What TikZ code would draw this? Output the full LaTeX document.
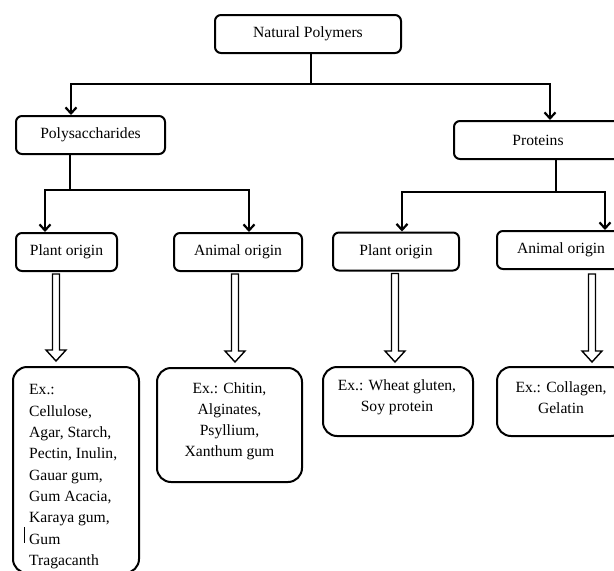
\documentclass[tikz,border=0pt]{standalone}
\usepackage{fontspec}
\setmainfont{Liberation Serif}
\usetikzlibrary{arrows.meta,calc}
\newcommand{\hollowarr}[2]{%
  \draw[hollow] ($(#1)+(-3.5,0)$) -- ($(#2)+(-3.5,-11)$) -- ($(#2)+(-10,-11)$) -- (#2)
    -- ($(#2)+(10,-11)$) -- ($(#2)+(3.5,-11)$) -- ($(#1)+(3.5,0)$) -- cycle;}
\begin{document}
\begin{tikzpicture}[x=1pt,y=-1pt,
  box/.style={draw, line width=2pt, rounded corners=6pt, inner sep=0pt, minimum height=38pt,
    font=\fontsize{15.6}{21}\selectfont},
  exbox/.style={draw, line width=2pt, rounded corners=14pt, inner sep=0pt},
  conn/.style={line width=2.2pt},
  arr/.style={conn, -{Straight Barb[length=6pt,width=11pt]}},
  hollow/.style={line width=1.4pt, line join=miter},
  txt/.style={font=\fontsize{15.6}{21}\selectfont, inner sep=0pt, align=center}]
\useasboundingbox (0,0) rectangle (614,571);
\clip (0,0) rectangle (614,571);

% level 0 and 1
\node[box, minimum width=186pt] (np) at (308,34) {Natural Polymers};
\node[box, minimum width=149pt] (poly) at (90.5,135) {Polysaccharides};
\node[box, minimum width=168pt] (prot) at (538,140) {Proteins};

% level 2
\node[box, minimum width=101pt] (plL) at (66.5,252) {Plant origin};
\node[box, minimum width=128pt] (anL) at (238,252) {Animal origin};
\node[box, minimum width=126pt] (plR) at (396,251.5) {Plant origin};
\node[box, minimum width=128pt] (anR) at (561,250) {Animal origin};

% example boxes
\node[exbox, minimum width=126pt, minimum height=206pt] (exL) at (76,470) {};
\node[exbox, minimum width=145pt, minimum height=114pt] (exLA) at (229.5,425) {};
\node[exbox, minimum width=150pt, minimum height=69pt] (exPR) at (398,401.5) {};
\node[exbox, minimum width=128pt, minimum height=69pt] (exAR) at (561,401.5) {};

\node[txt, align=left, anchor=north west, font=\fontsize{15.6}{21.3}\selectfont] (exLt) at (29,384.5)
  {Ex.:\\Cellulose,\\Agar, Starch,\\Pectin, Inulin,\\Gauar gum,\\Gum Acacia,\\Karaya gum,\\Gum\\Tragacanth};
\node[txt] (exLAt) at (229.5,421.5) {Ex.: Chitin,\\Alginates,\\Psyllium,\\Xanthum gum};
\node[txt] (exPRt) at (397,397.5) {Ex.: Wheat gluten,\\Soy protein};
\node[txt] (exARt) at (561,397.5) {Ex.: Collagen,\\Gelatin};

% text cursor mark
\draw[line width=0.8pt] (24,527) -- (24,543);

% connectors
\draw[conn] ([xshift=3pt]np.south) -- ++(0,30) coordinate (j1);
\draw[arr] (j1) -| ([xshift=-19.5pt]poly.north);
\draw[arr] (j1) -| ([xshift=12pt]prot.north);

\draw[conn] ([xshift=-20.5pt]poly.south) -- ++(0,35) coordinate (j2);
\draw[arr] (j2) -| ([xshift=-21.5pt]plL.north);
\draw[arr] (j2) -| ([xshift=11pt]anL.north);

\draw[conn] ([xshift=18pt]prot.south) -- ++(0,32) coordinate (j3);
\draw[arr] (j3) -| ([xshift=6pt]plR.north);
\draw[arr] (j3) -| ([xshift=44pt]anR.north);

% hollow arrows
\coordinate (h1s) at ([xshift=-10.5pt,yshift=-2pt]plL.south);
\coordinate (h1e) at ($(h1s |- exL.north)+(0,-5)$);
\coordinate (h2s) at ([xshift=-3pt,yshift=-2pt]anL.south);
\coordinate (h2e) at ($(h2s |- exLA.north)+(0,-5)$);
\coordinate (h3s) at ([xshift=-1pt,yshift=-2pt]plR.south);
\coordinate (h3e) at ($(h3s |- exPR.north)+(0,-4)$);
\coordinate (h4s) at ([xshift=31pt,yshift=-4pt]anR.south);
\coordinate (h4e) at ($(h4s |- exAR.north)+(0,-4)$);
\hollowarr{h1s}{h1e}
\hollowarr{h2s}{h2e}
\hollowarr{h3s}{h3e}
\hollowarr{h4s}{h4e}
\end{tikzpicture}
\end{document}
